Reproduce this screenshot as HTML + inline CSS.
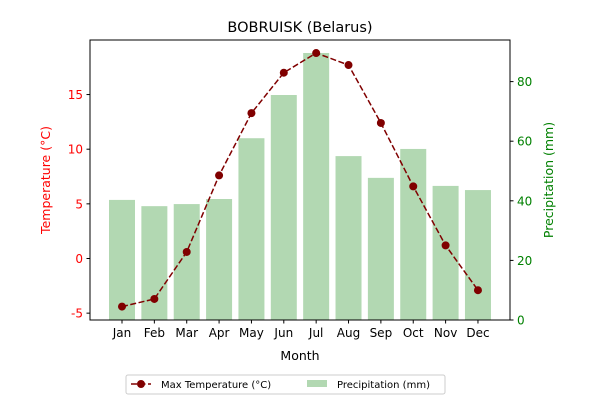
<!DOCTYPE html>
<html><head><meta charset="utf-8"><style>
body{margin:0;background:#fff;font-family:"Liberation Sans","DejaVu Sans",sans-serif;}
</style></head><body>
<svg width="600" height="400" xmlns="http://www.w3.org/2000/svg" font-family="DejaVu Sans, Liberation Sans, sans-serif">
<rect width="600" height="400" fill="#fff"/>
<g id="bars"></g>
<g id="line"></g>
<rect x="90" y="40" width="420" height="280" fill="none" stroke="#000" stroke-width="1"/>
<g id="axes"></g>
<text x="300" y="32" text-anchor="middle" font-size="14.5">BOBRUISK (Belarus)</text>
<text x="300" y="360" text-anchor="middle" font-size="12.5">Month</text>
<text transform="translate(50,180) rotate(-90)" text-anchor="middle" font-size="12.5" fill="red">Temperature (°C)</text>
<text transform="translate(553,180) rotate(-90)" text-anchor="middle" font-size="12.5" fill="green">Precipitation (mm)</text>
<g>
<rect x="126" y="375" width="319" height="19" fill="#fff" stroke="#ccc" rx="2"/>
<g>
<line x1="131" y1="384" x2="151" y2="384" stroke="#800000" stroke-width="1.5" stroke-dasharray="6,2.5"/>
<circle cx="141" cy="384" r="4" fill="#800000"/>
<text x="161" y="388" font-size="10">Max Temperature (°C)</text></g>
<g>
<rect x="307" y="380" width="20" height="7" fill="#b2d8b2"/>
<text x="337" y="388" font-size="10">Precipitation (mm)</text></g>
</g>
</svg>
<script>
const months=["Jan","Feb","Mar","Apr","May","Jun","Jul","Aug","Sep","Oct","Nov","Dec"];
const temps=[-4.4,-3.7,0.6,7.6,13.3,17.0,18.8,17.7,12.4,6.6,1.2,-2.9];
const precip=[40.3,38.2,38.9,40.6,61,75.5,89.6,55,47.7,57.4,45,43.6];
const tempTicks=[-5,0,5,10,15];
const precipTicks=[0,20,40,60,80];
const NS="http://www.w3.org/2000/svg";
const xS=i=>122+i*32.36;
const yT=v=>258.5-v*10.93;
const yP=v=>320-v*2.98;
function mk(t,a,p){const e=document.createElementNS(NS,t);for(const k in a)e.setAttribute(k,a[k]);p.appendChild(e);return e;}
const bars=document.getElementById('bars'),line=document.getElementById('line'),axes=document.getElementById('axes');
precip.forEach((v,i)=>{const r=mk('rect',{x:xS(i)-13,y:yP(v),width:26,height:320-yP(v),fill:'#b2d8b2'},bars);

});
const pl=mk('polyline',{points:temps.map((v,i)=>xS(i)+','+yT(v)).join(' '),fill:'none',stroke:'#800000','stroke-width':1.5,'stroke-dasharray':'6,2.5'},line);


temps.forEach((v,i)=>{const c=mk('circle',{cx:xS(i),cy:yT(v),r:4,fill:'#800000'},line);

});
months.forEach((m,i)=>{mk('line',{x1:xS(i),x2:xS(i),y1:320,y2:323.5,stroke:'#000'},axes);
const t=mk('text',{x:xS(i),y:337,'text-anchor':'middle','font-size':12,},axes);t.textContent=m;

});
tempTicks.forEach(v=>{mk('line',{x1:86.5,x2:90,y1:yT(v),y2:yT(v),stroke:'#000'},axes);
const t=mk('text',{x:83,y:yT(v)+4.5,'text-anchor':'end','font-size':12,fill:'red'},axes);t.textContent=v;

});
precipTicks.forEach(v=>{mk('line',{x1:510,x2:513.5,y1:yP(v),y2:yP(v),stroke:'#000'},axes);
const t=mk('text',{x:517,y:yP(v)+4.5,'font-size':12,fill:'green'},axes);t.textContent=v;

});
</script>
</body></html>
